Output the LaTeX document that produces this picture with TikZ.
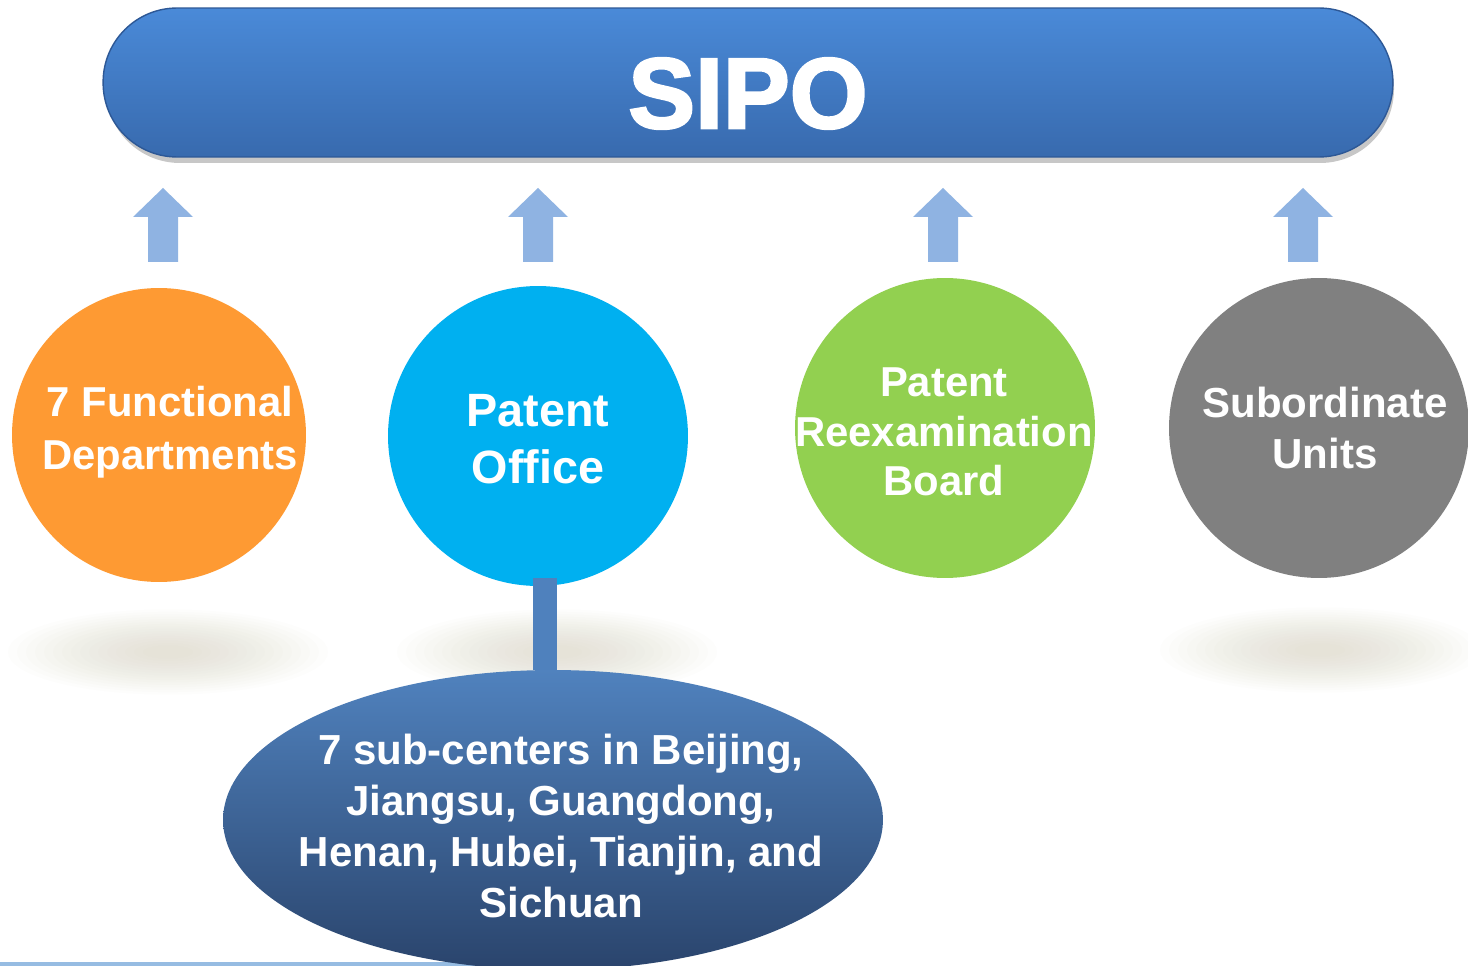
\documentclass[tikz,border=0pt]{standalone}
\usepackage{fontspec}
\setmainfont{Liberation Sans}
\newfontfamily\heavyfont[BoldFeatures={FakeBold=2.5}]{Liberation Sans}
\usetikzlibrary{shapes.geometric}
\definecolor{barTop}{RGB}{74,138,216}
\definecolor{barBot}{RGB}{56,106,174}
\definecolor{barEdge}{RGB}{45,88,150}
\definecolor{arrowc}{RGB}{143,179,226}
\definecolor{orangec}{RGB}{254,154,51}
\definecolor{cyanc}{RGB}{0,176,240}
\definecolor{greenc}{RGB}{146,208,80}
\definecolor{grayc}{RGB}{128,128,128}
\definecolor{subTop}{RGB}{80,130,190}
\definecolor{subBot}{RGB}{42,68,108}
\definecolor{linkc}{RGB}{79,129,189}
\definecolor{shc}{RGB}{212,206,184}
\definecolor{stripc}{RGB}{150,188,226}
\tikzset{
  bar/.style={rectangle, rounded corners=1.48cm, minimum width=25.8cm, minimum height=2.98cm,
    top color=barTop, bottom color=barBot, draw=barEdge, line width=0.8pt, inner sep=0pt},
  circ/.style={circle, minimum size=6cm, inner sep=0pt},
  lbl/.style={text=white, align=center, inner sep=0pt},
  uparrow/.style={fill=arrowc},
  subell/.style={ellipse, minimum width=13.2cm, minimum height=6cm, inner sep=0pt,
    top color=subTop, bottom color=subBot},
  link/.style={draw=linkc, line width=0.48cm},
  floorshadow/.style={fill=shc, fill opacity=0.04}
}
\begin{document}
\begin{tikzpicture}[x=0.02cm,y=-0.02cm]
\useasboundingbox (0,0) rectangle (1468,966);
\fill[white] (0,0) rectangle (1468,966);

% soft shadows on the floor
\foreach \cx/\cy in {168/652, 557/652, 1320/650}
  \foreach \k in {0,...,15}
    \fill[floorshadow] (\cx,\cy) ellipse [x radius={(3.2-0.18*\k)*1cm}, y radius={(0.85-0.048*\k)*1cm}];

% bottom strip
\fill[stripc] (0,962) rectangle (600,966);

% top bar
\fill[black, opacity=0.22, rounded corners=1.48cm] (106,14) rectangle (1394,163);
\node[bar] (sipo) at (748,82.5) {};
\node[lbl, anchor=base, font=\heavyfont\bfseries\fontsize{57pt}{60pt}\selectfont] (sipot) at (748,128) {SIPO};

% arrows
\foreach \cx in {163,538,943,1303}
  \fill[uparrow] (\cx,188) -- (\cx+30,217) -- (\cx+15,217) -- (\cx+15,262)
     -- (\cx-15,262) -- (\cx-15,217) -- (\cx-30,217) -- cycle;

% circles
\node[circ, fill=orangec, minimum size=5.88cm] (fd) at (159,435) {};
\node[lbl, font=\bfseries\fontsize{23.8pt}{30pt}\selectfont] (fdt) at (170,432) {7 Functional\\Departments};

\node[circ, fill=cyanc] (po) at (538,436) {};
\node[lbl, font=\bfseries\fontsize{26.6pt}{32.3pt}\selectfont] (pot) at (538,439) {Patent\\Office};

\node[circ, fill=greenc] (prb) at (945,428) {};
\node[lbl, font=\bfseries\fontsize{23.8pt}{28.3pt}\selectfont] (prbt) at (944,432) {Patent\\Reexamination\\Board};

\node[circ, fill=grayc] (su) at (1319,428) {};
\node[lbl, font=\bfseries\fontsize{23.9pt}{29pt}\selectfont] (sut) at (1325,428) {Subordinate\\Units};

% sub-centers
\node[subell] (sub) at (553,820) {};
\draw[link] ([xshift=0.14cm,yshift=0.16cm]po.south) -- ([xshift=0.14cm]po.south |- sub.north);
\node[lbl, font=\bfseries\fontsize{23.9pt}{29pt}\selectfont] (subt) at (561,826)
  {7 sub-centers in Beijing,\\Jiangsu, Guangdong,\\Henan, Hubei, Tianjin, and\\Sichuan};
\end{tikzpicture}
\end{document}
